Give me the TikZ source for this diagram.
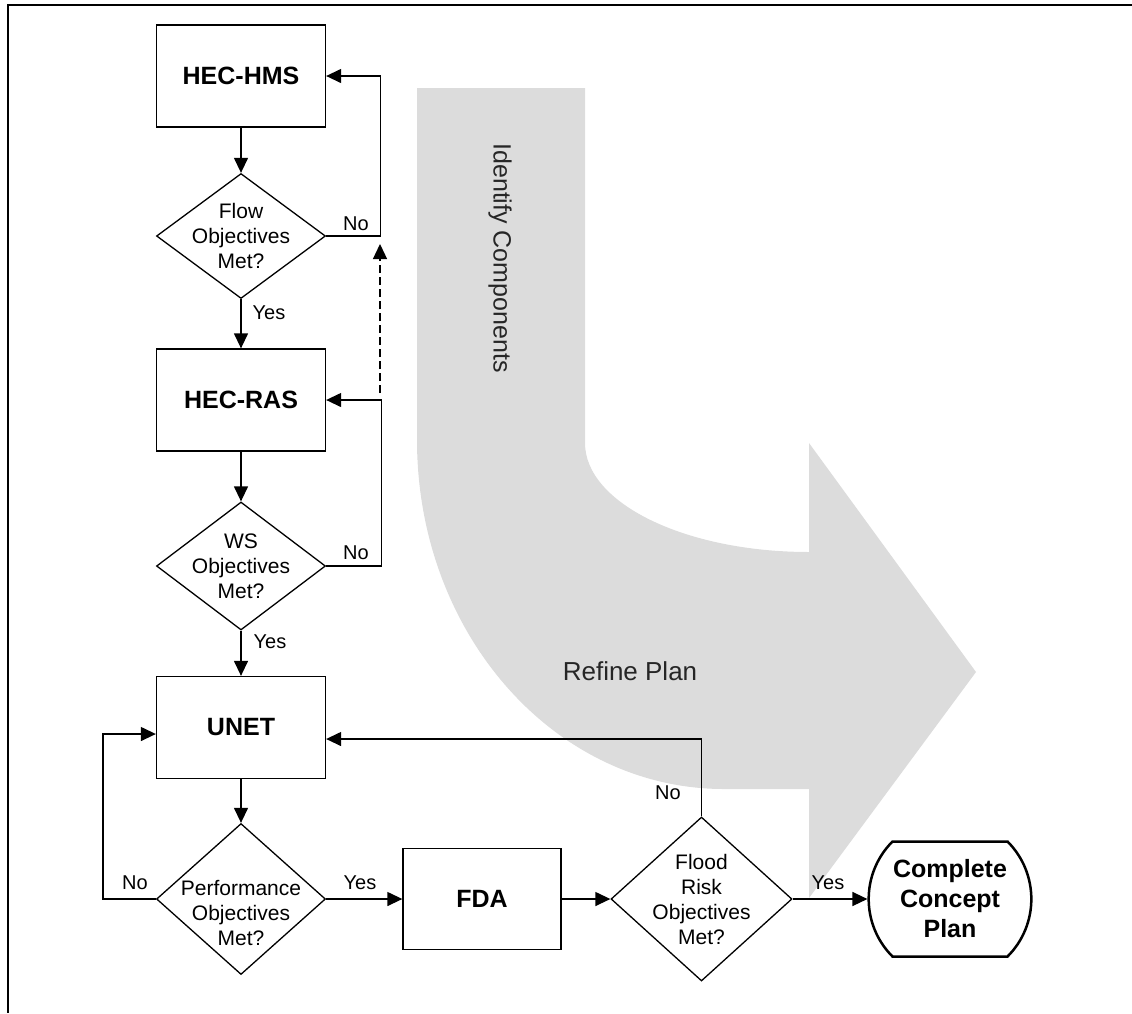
\documentclass[tikz,border=0pt]{standalone}
\usepackage{fontspec}
\setmainfont{Liberation Sans}
\usetikzlibrary{arrows.meta,shapes.geometric,shapes.misc}
\definecolor{bandgray}{RGB}{220,220,220}

\begin{document}
\begin{tikzpicture}[x=1pt,y=-1pt,line width=1.3pt,
    box/.style={draw,minimum width=169pt,minimum height=102pt,align=center,font=\fontsize{25}{30}\selectfont\bfseries},
    test/.style={draw,diamond,inner sep=0pt,minimum width=169pt},
    qtxt/.style={align=center,font=\fontsize{21}{25}\selectfont},
    lbl/.style={font=\fontsize{20}{24}\selectfont},
    >={Triangle[length=15pt,width=14pt]}]
\useasboundingbox (0,0) rectangle (1132,1013);

% big grey turn arrow behind the chart
\fill[bandgray] (417,88) -- (585,88) -- (585,443) .. controls (585,503) and (685,552) .. (809,552)
    -- (809,443) -- (976,672) -- (809,898) -- (809,789) -- (724,789)
    .. controls (554,789) and (417,633) .. (417,440) -- cycle;
\node[rotate=-90,font=\fontsize{25}{30}\selectfont,text=black!85] at (500,258) (ident) {Identify Components};
\node[font=\fontsize{26}{30}\selectfont,text=black!85] at (630,671) (refine) {Refine Plan};

\draw[line width=2pt] (1132,5) -- (8,5) -- (8,1013);

\node[box] at (241,76)(hms){HEC-HMS};
\node[test,minimum height=125pt] at (241,236)(flow){};
\node[qtxt] at (flow)(flowq){Flow\\Objectives\\Met?};
\node[box] at (241,400)(ras){HEC-RAS};
\node[test,minimum height=128pt] at (241,566)(ws){};
\node[qtxt] at (ws)(wsq){WS\\Objectives\\Met?};
\node[box] at (241,727.5)(unet){UNET};
\node[test,minimum height=151pt] at (241,899)(perf){};
\node[qtxt] at (241,913)(perfq){Performance\\Objectives\\Met?};
\node[box,minimum width=158pt,minimum height=101pt] at (482,899)(fda){FDA};
\node[test,minimum width=181pt,minimum height=164pt] at (701.5,899)(flood){};
\node[qtxt] at (flood)(floodq){Flood\\Risk\\Objectives\\Met?};
\node[draw,rounded rectangle,rounded rectangle arc length=90,line width=2.5pt,
    minimum width=157pt,minimum height=115pt,align=center,
    font=\fontsize{25}{30}\selectfont\bfseries] at (950,899)(plan){Complete\\Concept\\Plan};

\coordinate (dashlow) at (380,393);
\coordinate (dashhigh) at (380,244);

\draw[->] (hms) -- (flow);
\draw[->] (flow) -- (ras);
\draw[->] (ras) -- (ws);
\draw[->] (ws) -- (unet);
\draw[->] (unet) -- (perf);
\draw[->] (perf) -- (fda);
\draw[->] (fda) -- (flood);
\draw[->] (flood) -- (plan);
\draw[->] (flow.east) -- ++(54.5,0) |- (hms.east);
\draw[->] (ws.east) -- ++(55,0) |- (ras.east);
\draw[->] (perf.west) -- ++(-53,0) |- ([yshift=-6.5pt]unet.west);
\draw[->] (flood.north) |- ([yshift=-11.5pt]unet.east);
\draw[->,dash pattern=on 8pt off 4pt] (dashlow) -- (dashhigh);

\node[lbl] at (356,224)(noflow){No};
\node[lbl] at (269,313)(yesflow){Yes};
\node[lbl] at (356,553)(nows){No};
\node[lbl] at (270,642)(yesws){Yes};
\node[lbl] at (135,883)(noperf){No};
\node[lbl] at (360,883)(yesperf){Yes};
\node[lbl] at (668,793)(noflood){No};
\node[lbl] at (828,883)(yesflood){Yes};
\end{tikzpicture}
\end{document}
